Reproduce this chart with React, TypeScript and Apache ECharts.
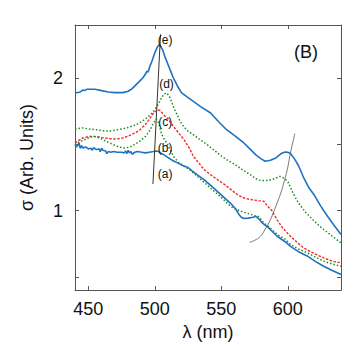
import React, { useEffect, useRef } from "react";
import * as echarts from "echarts";

const FONT = '"Liberation Sans", Arial, Helvetica, sans-serif';

// (e) top blue
const eLambda = [440, 444, 446, 447, 449, 455, 460, 465, 470, 476, 480, 483, 486, 489, 491, 493, 494, 495, 496, 498, 500, 502, 503, 504, 506, 508, 510, 512, 514, 517, 520, 524, 529, 535, 542, 548, 554, 560, 567, 572, 576, 580, 583, 587, 591, 595, 598, 600, 602, 605, 608, 612, 616, 620, 625, 630, 635, 640];
const eSigma = [1.887, 1.895, 1.91, 1.905, 1.915, 1.915, 1.905, 1.895, 1.89, 1.89, 1.9, 1.92, 1.95, 1.98, 2.0, 2.03, 2.05, 2.045, 2.08, 2.13, 2.19, 2.235, 2.25, 2.245, 2.21, 2.15, 2.1, 2.05, 2.0, 1.94, 1.89, 1.86, 1.824, 1.78, 1.736, 1.67, 1.61, 1.565, 1.51, 1.46, 1.42, 1.39, 1.372, 1.38, 1.397, 1.43, 1.442, 1.44, 1.43, 1.39, 1.34, 1.246, 1.17, 1.115, 1.03, 0.955, 0.885, 0.82];

// (d) upper green dotted
const dLambda = [440, 446, 451, 456, 461, 466, 471, 476, 481, 486, 490, 494, 497, 500, 503, 505, 507, 509, 511, 513, 515, 517, 519, 522, 525, 530, 534, 539, 544, 549, 554, 560, 567, 572, 576, 580, 585, 590, 594, 597, 600, 604, 607, 610, 614, 618, 622, 627, 633, 640];
const dSigma = [1.617, 1.623, 1.615, 1.61, 1.603, 1.6, 1.607, 1.617, 1.63, 1.648, 1.67, 1.7, 1.725, 1.76, 1.81, 1.85, 1.88, 1.887, 1.86, 1.81, 1.76, 1.72, 1.673, 1.63, 1.6, 1.565, 1.535, 1.5, 1.46, 1.42, 1.384, 1.35, 1.3, 1.27, 1.24, 1.226, 1.226, 1.24, 1.258, 1.245, 1.22, 1.13, 1.075, 1.03, 0.98, 0.94, 0.9, 0.857, 0.81, 0.756];

// (c) red dashed
const cLambda = [440, 443, 446, 450, 454, 458, 462, 467, 471, 476, 481, 485, 489, 493, 496, 499, 502, 504, 507, 510, 514, 518, 522, 526, 529, 533, 537, 542, 547, 552, 557, 562, 567, 572, 578, 582, 585, 588, 592, 596, 602, 607, 612, 620, 627, 633, 640];
const cSigma = [1.51, 1.53, 1.548, 1.558, 1.56, 1.555, 1.548, 1.542, 1.54, 1.548, 1.565, 1.585, 1.61, 1.65, 1.69, 1.735, 1.76, 1.755, 1.72, 1.69, 1.635, 1.585, 1.535, 1.47, 1.41, 1.36, 1.31, 1.27, 1.234, 1.2, 1.16, 1.12, 1.095, 1.083, 1.075, 1.07, 1.03, 1.0, 0.93, 0.87, 0.806, 0.76, 0.718, 0.675, 0.643, 0.62, 0.605];

// (b) lower green dotted
const bLambda = [440, 444, 448, 452, 455, 458, 461, 465, 469, 473, 477, 481, 485, 489, 493, 496, 499, 501, 503, 505, 507, 509, 512, 514, 518, 522, 526, 529, 534, 539, 544, 549, 553, 557, 561, 566, 571, 575, 578, 582, 586, 592, 598, 602, 608, 615, 621, 627, 633, 640];
const bSigma = [1.497, 1.52, 1.538, 1.555, 1.558, 1.55, 1.535, 1.515, 1.497, 1.48, 1.472, 1.478, 1.5, 1.525, 1.56, 1.6, 1.66, 1.69, 1.66, 1.58, 1.54, 1.51, 1.45, 1.41, 1.36, 1.334, 1.31, 1.284, 1.24, 1.196, 1.15, 1.108, 1.07, 1.032, 1.01, 0.99, 0.975, 0.962, 0.955, 0.907, 0.875, 0.82, 0.785, 0.744, 0.71, 0.68, 0.648, 0.618, 0.598, 0.58];

// (a) lower blue
const aLambda = [440, 441, 442, 443, 444, 445, 446, 448, 450, 452, 453, 454, 456, 458, 459, 460, 461, 463, 464, 465, 467, 469, 472, 475, 477, 478, 479, 480, 481, 482, 483, 485, 487, 490, 493, 496, 499, 501, 503, 505, 507, 510, 513, 517, 521, 525, 528, 532, 537, 542, 547, 552, 557, 561, 563, 565, 567, 570, 574, 576, 578, 581, 586, 592, 598, 602, 608, 615, 621, 627, 633, 640];
const aSigma = [1.497, 1.48, 1.49, 1.51, 1.47, 1.49, 1.472, 1.48, 1.465, 1.47, 1.455, 1.475, 1.46, 1.465, 1.445, 1.47, 1.455, 1.45, 1.43, 1.445, 1.44, 1.445, 1.44, 1.44, 1.435, 1.45, 1.43, 1.455, 1.435, 1.445, 1.425, 1.44, 1.445, 1.44, 1.435, 1.44, 1.445, 1.45, 1.445, 1.43, 1.42, 1.4, 1.38, 1.36, 1.34, 1.325, 1.3, 1.27, 1.234, 1.19, 1.145, 1.1, 1.055, 1.01, 0.975, 0.95, 0.94, 0.943, 0.95, 0.957, 0.94, 0.905, 0.865, 0.806, 0.765, 0.73, 0.69, 0.655, 0.615, 0.58, 0.55, 0.517];

// guide line through the ~500 nm peaks
const peakLineLambda = [498.6, 504.3];
const peakLineSigma = [1.2, 2.33];

// guide curve through the ~600 nm peaks
const guideLambda = [571.4, 575, 579.4, 583, 585.7, 589, 592, 595, 597, 599.6, 602, 605.3];
const guideSigma = [0.761, 0.775, 0.806, 0.86, 0.907, 0.98, 1.058, 1.14, 1.209, 1.309, 1.435, 1.58];

// curve labels
const labelNames = ["(e)", "(d)", "(c)", "(b)", "(a)"];
const labelLambda = [507.8, 508.8, 507.8, 507.8, 507.8];
const labelSigma = [2.285, 1.952, 1.671, 1.469, 1.277];

const zip = (xs: number[], ys: number[]) => xs.map((x, i) => [x, ys[i]]);

const BLUE = "#1f72bd";
const RED = "#f02828";
const GREEN = "#1f8c1f";
const AXIS = "#555";

export default function App() {
  const ref = useRef<HTMLDivElement>(null);
  useEffect(() => {
    const chart = echarts.init(ref.current!, null, { renderer: "svg" });
    const axisLine = { show: true, onZero: false, lineStyle: { color: AXIS, width: 1 } };
    const axisTick = { show: true, inside: true, length: 4, lineStyle: { color: AXIS, width: 1 } };
    const lineSeries = (name: string, xs: number[], ys: number[], color: string, type: any, width: number) => ({
      name,
      type: "line",
      data: zip(xs, ys),
      showSymbol: false,
      symbol: "none",
      lineStyle: { color, width, type },
      z: 3,
    });
    chart.setOption({
      animation: false,
      backgroundColor: "#fff",
      textStyle: { fontFamily: FONT },
      title: {
        text: "(B)",
        left: 294,
        top: 43,
        padding: 0,
        textStyle: { fontSize: 18, fontWeight: "normal", color: "#111", fontFamily: FONT },
      },
      grid: { left: 75, right: 18, top: 25, bottom: 55, containLabel: false },
      xAxis: [
        {
          type: "value",
          min: 440,
          max: 640,
          splitNumber: 4,
          position: "bottom",
          axisLine,
          axisTick,
          splitLine: { show: false },
          axisLabel: {
            fontSize: 18,
            color: "#111",
            margin: 10,
            fontFamily: FONT,
            formatter: (v: number) => (Math.abs(v % 50) < 1e-6 ? String(v) : ""),
          },
          name: "λ (nm)",
          nameLocation: "middle",
          nameGap: 29,
          nameTextStyle: { fontSize: 18, color: "#111", fontFamily: FONT },
        },
        {
          type: "value",
          min: 440,
          max: 640,
          splitNumber: 4,
          position: "top",
          axisLine,
          axisTick,
          splitLine: { show: false },
          axisLabel: { show: false },
        },
      ],
      yAxis: [
        {
          type: "value",
          min: 0.4,
          max: 2.4,
          splitNumber: 4,
          position: "left",
          axisLine,
          axisTick,
          splitLine: { show: false },
          axisLabel: {
            fontSize: 18,
            color: "#111",
            margin: 12,
            fontFamily: FONT,
            formatter: (v: number) => (Math.abs(v - Math.round(v)) < 1e-6 && v > 0.6 ? String(Math.round(v)) : ""),
          },
          name: "σ (Arb. Units)",
          nameLocation: "middle",
          nameGap: 39,
          nameTextStyle: { fontSize: 18, color: "#111", fontFamily: FONT },
        },
        {
          type: "value",
          min: 0.4,
          max: 2.4,
          splitNumber: 4,
          position: "right",
          axisLine,
          axisTick,
          splitLine: { show: false },
          axisLabel: { show: false },
        },
      ],
      series: [
        lineSeries("e", eLambda, eSigma, BLUE, "solid", 1.6),
        lineSeries("d", dLambda, dSigma, GREEN, [1.5, 2], 1.5),
        lineSeries("c", cLambda, cSigma, RED, [2.5, 1.5], 1.4),
        lineSeries("b", bLambda, bSigma, GREEN, [1.5, 2], 1.5),
        lineSeries("a", aLambda, aSigma, BLUE, "solid", 1.6),
        {
          name: "peakLine",
          type: "line",
          data: zip(peakLineLambda, peakLineSigma),
          showSymbol: false,
          symbol: "none",
          lineStyle: { color: "#333", width: 1 },
          z: 4,
        },
        {
          name: "guide",
          type: "line",
          data: zip(guideLambda, guideSigma),
          smooth: true,
          showSymbol: false,
          symbol: "none",
          lineStyle: { color: "#777", width: 1 },
          z: 2,
        },
        {
          name: "labels",
          type: "scatter",
          symbolSize: 2,
          itemStyle: { color: "rgba(255,255,255,0)" },
          silent: true,
          data: labelNames.map((n, i) => ({ name: n, value: [labelLambda[i], labelSigma[i]] })),
          label: {
            show: true,
            position: [1, 1],
            align: "center",
            verticalAlign: "middle",
            formatter: (p: any) => p.name,
            fontSize: 12,
            fontWeight: "normal",
            color: "#111",
            opacity: 1,
            fontFamily: FONT,
          },
          z: 5,
        },
      ],
    });
    return () => chart.dispose();
  }, []);
  return (
    <div
      ref={ref}
      style={{ position: "fixed", left: 0, top: 0, width: 359, height: 346, background: "#fff" }}
    />
  );
}
